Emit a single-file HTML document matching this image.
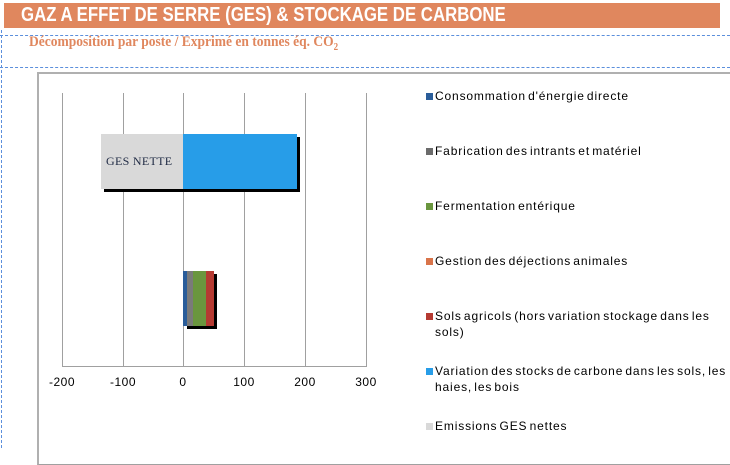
<!DOCTYPE html>
<html><head><meta charset="utf-8"><style>
body{margin:0;width:730px;height:448px;background:#fff;position:relative;overflow:hidden;font-family:"Liberation Sans",sans-serif}
.a{position:absolute}
.leg{position:absolute;left:426px;font-size:12px;color:#000;line-height:16px;letter-spacing:0.85px;word-spacing:-2px}
.leg i{position:absolute;left:0;top:5px;width:7px;height:7px}
.leg span{display:block;margin-left:9px;width:292px}
.tk{position:absolute;top:375px;font-size:12px;width:40px;text-align:center;margin-left:-20px;letter-spacing:0.5px}
.g{position:absolute;top:93px;width:1px;height:274px;background:#a0a0a0}
</style></head><body>
<div class="a" style="left:4px;top:3px;width:716px;height:25px;background:#E0875E"></div>
<div class="a" style="left:21px;top:3px;font-size:20px;font-weight:bold;color:#fff;transform:scaleX(0.84);transform-origin:left;line-height:25px;white-space:nowrap">GAZ A EFFET DE SERRE (GES) &amp; STOCKAGE DE CARBONE</div>
<div class="a" style="left:0;top:35px;width:730px;border-top:1px dashed #5b8fdc"></div>
<div class="a" style="left:0;top:67px;width:730px;border-top:1px dashed #5b8fdc"></div>
<div class="a" style="left:1px;top:30px;height:418px;border-left:1px dashed #5b8fdc"></div>
<div class="a" style="left:29px;top:34px;font-family:'Liberation Serif',serif;font-size:15px;font-weight:bold;color:#E0875E;transform:scaleX(0.9);transform-origin:left;white-space:nowrap">Décomposition par poste / Exprimé en tonnes éq. CO<sub style="font-size:10px">2</sub></div>
<div class="a" style="left:37px;top:72px;width:700px;height:390px;border:1px solid #a0a0a0;border-top:2px solid #b0b0b0;border-left:2px solid #b0b0b0"></div>
<div class="g" style="left:62px"></div><div class="g" style="left:123px"></div><div class="g" style="left:183px"></div><div class="g" style="left:244px"></div><div class="g" style="left:305px"></div><div class="g" style="left:366px"></div>
<div class="a" style="left:62px;top:366px;width:305px;height:1px;background:#a0a0a0"></div>
<div class="a" style="left:104px;top:137px;width:196px;height:55px;background:#000"></div>
<div class="a" style="left:101px;top:134px;width:82px;height:55px;background:#d9d9d9"></div>
<div class="a" style="left:183px;top:134px;width:114px;height:55px;background:#279de8"></div>
<div class="a" style="left:106px;top:154px;font-family:'Liberation Serif',serif;font-size:12px;color:#1f2a44;letter-spacing:0.3px">GES NETTE</div>
<div class="a" style="left:187px;top:274px;width:30px;height:55px;background:#000"></div>
<div class="a" style="left:183px;top:271px;width:4px;height:55px;background:#2a5d9a"></div>
<div class="a" style="left:187px;top:271px;width:6px;height:55px;background:#7a7a7a"></div>
<div class="a" style="left:193px;top:271px;width:13px;height:55px;background:#6a963e"></div>
<div class="a" style="left:206px;top:271px;width:8px;height:55px;background:#b53a32"></div>
<div class="tk" style="left:62px">-200</div><div class="tk" style="left:123px">-100</div><div class="tk" style="left:183px">0</div><div class="tk" style="left:244px">100</div><div class="tk" style="left:305px">200</div><div class="tk" style="left:366px">300</div>
<div class="leg" style="top:88px"><i style="background:#2a5d9a"></i><span>Consommation d'énergie directe</span></div>
<div class="leg" style="top:143px"><i style="background:#6b6b6b"></i><span>Fabrication des intrants et matériel</span></div>
<div class="leg" style="top:198px"><i style="background:#6a963e"></i><span>Fermentation entérique</span></div>
<div class="leg" style="top:253px"><i style="background:#d9744a"></i><span>Gestion des déjections animales</span></div>
<div class="leg" style="top:308px"><i style="background:#b53a32"></i><span>Sols agricols (hors variation stockage dans les sols)</span></div>
<div class="leg" style="top:363px"><i style="background:#279de8"></i><span>Variation des stocks de carbone dans les sols, les haies, les bois</span></div>
<div class="leg" style="top:418px"><i style="background:#d9d9d9"></i><span>Emissions GES nettes</span></div>
</body></html>
